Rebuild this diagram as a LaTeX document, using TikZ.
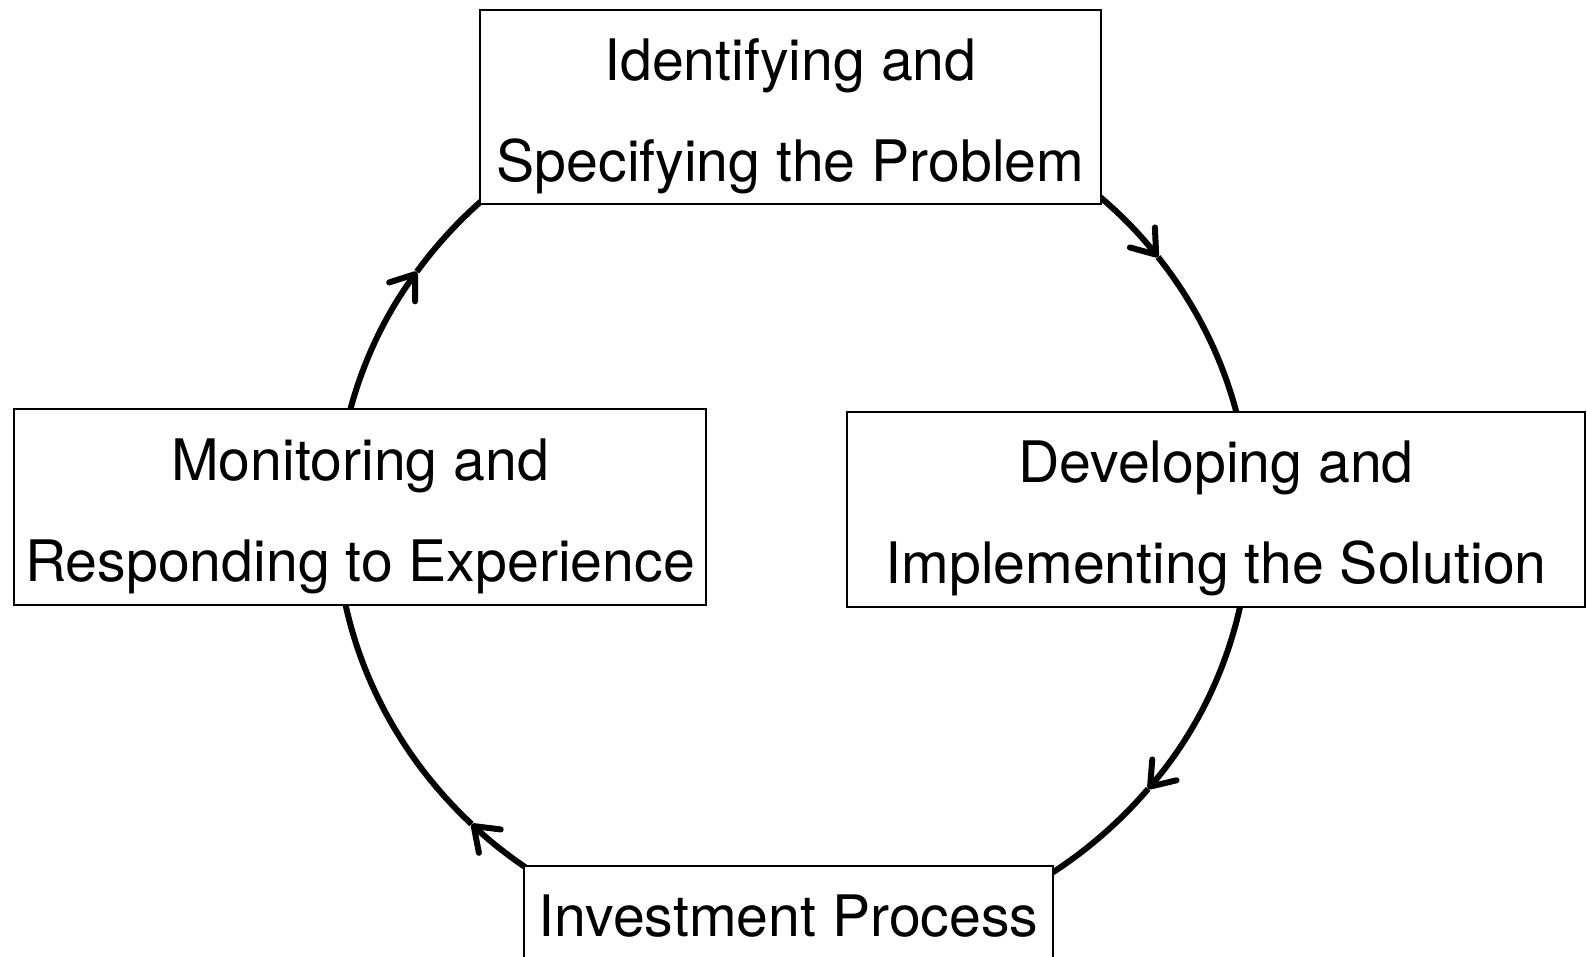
\documentclass[tikz,border=0pt]{standalone}
\usepackage{fontspec}
\setmainfont{TeX Gyre Heros}
\usetikzlibrary{arrows.meta}
\begin{document}
\begin{tikzpicture}[x=1pt,y=1pt,
  box/.style={draw, line width=1.8pt, fill=white, inner sep=0pt, outer sep=0pt,
    align=center, font=\fontsize{57.2}{101}\selectfont},
  loopline/.style={line width=6pt},
  tipped/.style={-{Straight Barb[length=22pt,width=32pt,line cap=round,line join=round]}},
  er/.style={x radius=457pt, y radius=432pt}]
\useasboundingbox (0,0) rectangle (1587,-957);
\clip (0,0) rectangle (1587,-957);
\coordinate (O) at (793,-517);
% top -> right
\draw[loopline,tipped] ([shift={(55:457pt and 432pt)}]O) arc[start angle=55,end angle=37,er];
\draw[loopline] ([shift={(37:457pt and 432pt)}]O) arc[start angle=37,end angle=8,er];
% right -> bottom
\draw[loopline,tipped] ([shift={(-5:457pt and 432pt)}]O) arc[start angle=-5,end angle=-39,er];
\draw[loopline] ([shift={(-39:457pt and 432pt)}]O) arc[start angle=-39,end angle=-60,er];
% bottom -> left
\draw[loopline,tipped] ([shift={(240:457pt and 432pt)}]O) arc[start angle=240,end angle=225.3,er];
\draw[loopline] ([shift={(225.3:457pt and 432pt)}]O) arc[start angle=225.3,end angle=185,er];
% left -> top
\draw[loopline,tipped] ([shift={(175:457pt and 432pt)}]O) arc[start angle=175,end angle=145.4,er];
\draw[loopline] ([shift={(145.4:457pt and 432pt)}]O) arc[start angle=145.4,end angle=125,er];
% boxes
\node[box, minimum width=621pt, minimum height=194pt] (top) at (790.5,-107)
  {\rule{0pt}{60pt}Identifying and\\Specifying the Problem};
\node[box, minimum width=692pt, minimum height=196pt] (left) at (360,-507)
  {\rule{0pt}{60pt}Monitoring and\\Responding to Experience};
\node[box, minimum width=738pt, minimum height=195pt] (right) at (1216,-509.5)
  {\rule{0pt}{60pt}Developing and\\Implementing the Solution};
\node[box, minimum width=529pt, anchor=north] (bottom) at (788.5,-866)
  {\rule[-40pt]{0pt}{110pt}Investment Process};
\end{tikzpicture}
\end{document}
